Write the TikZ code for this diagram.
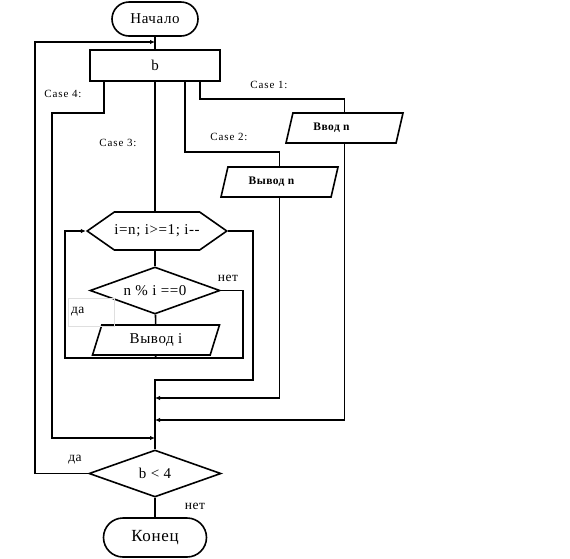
\documentclass[tikz,border=0pt]{standalone}
\usepackage{fontspec}
\setmainfont{Liberation Serif}
\newfontfamily\spaced[LetterSpace=4]{Liberation Serif}
\newfontfamily\wide[LetterSpace=8]{Liberation Serif}
\usetikzlibrary{shapes.geometric,shapes.misc,shapes.symbols,arrows.meta,positioning}
\tikzset{
  basebox/.style={draw=black,line width=1.6pt,align=center,inner sep=0pt,font=\spaced\fontsize{15}{17}\selectfont},
  termnode/.style={basebox,rounded rectangle,minimum width=86pt,minimum height=34pt},
  switchnode/.style={basebox,rectangle,minimum width=130pt,minimum height=31pt},
  ionode/.style={basebox,trapezium,trapezium left angle=54,trapezium right angle=126,trapezium stretches body,minimum width=117pt,minimum height=30pt},
  iosmall/.style={ionode,font=\spaced\bfseries\fontsize{11.5}{13}\selectfont},
  loopnode/.style={basebox,signal,signal to=west and east,signal pointer angle=70,minimum width=119pt,minimum height=38pt},
  condnode/.style={basebox,diamond,aspect=2.8,minimum width=130pt,minimum height=47pt},
  casetext/.style={font=\wide\fontsize{11}{13}\selectfont,inner sep=0pt},
  marktext/.style={font=\spaced\fontsize{13.5}{15}\selectfont,inner sep=0pt},
  flow/.style={line width=1.6pt},
  arr/.style={flow,-{Latex[length=5pt,width=4.5pt]}}
}

\begin{document}
\begin{tikzpicture}[x=1pt,y=-1pt]
  \useasboundingbox (0,0) rectangle (570,558);
  \node[termnode] (start) at (155,19) {Начало};
  \node[switchnode] (sw) at (155,65.5) {b};
  \node[iosmall] (inn) at (344.5,128) {Ввод n\hspace*{26pt}};
  \node[iosmall] (outn) at (279.5,182) {Вывод n\hspace*{16pt}};
  \node[loopnode] (loop) at (157,231) {i=n; i>=1; i{-}{-}};
  \node[condnode] (cond) at (155,290.5) {n \% i ==0};
  \node[ionode,minimum width=127pt] (outi) at (156,340) {Вывод i};
  \node[condnode,minimum width=132pt] (test) at (155,473.5) {b < 4};
  \node[termnode,minimum width=103pt,minimum height=39pt,font=\spaced\fontsize{17}{19}\selectfont] (stop) at (155,537.5) {Конец};

  \coordinate (jt) at (155,42);
  \coordinate (c4) at (52,113);
  \coordinate (j2) at (155,398);
  \coordinate (j1) at (155,420);
  \coordinate (j4) at (155,438);
  \coordinate (lb) at (155,358);
  \coordinate (lt) at (65,358);
  \coordinate (rb) at (243,358);
  \coordinate (ex) at (253,380);
  \coordinate (jx) at (155,380);

  \draw[flow] (start) -- (sw);
  \draw[arr] (test.west) -- ++(-53,0) |- (jt);
  \draw[flow] (sw.south) -- (sw.south |- loop.north);
  \draw[arr] ([xshift=-51pt]sw.south) |- (c4) |- (j4);
  \draw[flow] ([xshift=30pt]sw.south) |- ([yshift=14pt]outn.north) -- (outn.north);
  \draw[flow] ([xshift=45pt]sw.south) |- ([yshift=13pt]inn.north) -- (inn.north);
  \draw[arr] (outn.south) |- (j2);
  \draw[arr] (inn.south) |- (j1);
  \draw[flow] (loop.south -| cond.north) -- (cond);
  \draw[flow] (cond) -- (outi);
  \draw[arr] (outi.south) -- (lb) -- (lt) |- (loop.west);
  \draw[flow] (cond.east) -| (rb) -- (lb);
  \draw[flow] (loop.east) -| (ex) -- (jx) -- (test.north);
  \draw[flow] (test) -- (stop);

  \node[casetext] (c1lbl) at (269,85) {Case 1:};
  \node[casetext] (c2lbl) at (229,137) {Case 2:};
  \node[casetext] (c3lbl) at (118,143) {Case 3:};
  \node[casetext] (c4lbl) at (63,94) {Case 4:};
  \node[marktext] (nolbl) at (228,278) {нет};
  \node[marktext,draw=gray!25,line width=0.5pt,text width=40pt,align=left,inner xsep=3pt,minimum height=28pt] (yeslbl) at (91,312) {да};
  \node[marktext] (yestest) at (75,460) {да};
  \node[marktext] (notest) at (195,506) {нет};
\end{tikzpicture}
\end{document}
